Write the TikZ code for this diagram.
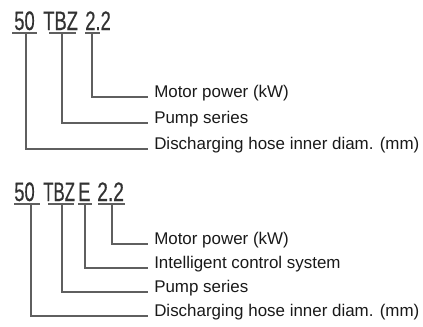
\documentclass[tikz,border=0pt]{standalone}
\usepackage{fontspec}
\setmainfont{Liberation Sans}
\newfontfamily\codefont[FakeBold=0.5]{Liberation Sans}
\definecolor{linegray}{RGB}{95,95,95}
\definecolor{codegray}{RGB}{50,50,50}
\definecolor{labblack}{RGB}{25,25,25}
\begin{document}
\begin{tikzpicture}[x=0.75pt,y=-0.75pt]
\useasboundingbox (0,0) rectangle (423,326);
\tikzset{
  code/.style={anchor=base west,inner sep=0,text=codegray,font=\codefont\fontsize{20}{22}\selectfont},
  lab/.style={anchor=base west,inner sep=0,text=labblack,font=\fontsize{12.7}{15}\selectfont},
  lead/.style={draw=linegray,line width=1.4pt},
  uline/.style={draw=linegray,line width=1.4pt}
}
\newcommand{\cnd}[2][0.69]{\scalebox{#1}[1]{#2}}
% ---------- top block ----------
\node[code] (t50) at (14,30) {\cnd{50}};
\node[code] (ttbz) at (43,30) {\cnd{TBZ}};
\node[code] (t22) at (85,30) {\cnd{2.2}};
\draw[uline] (12,33) -- (37,33);
\draw[uline] (49,33) -- (76,33);
\draw[uline] (85,33) -- (100,33);
\coordinate (ta) at (26,33);
\coordinate (tb) at (62,33);
\coordinate (tc) at (92,33);
\node[lab] (tl1) at (154,97) {Motor power (kW)};
\node[lab] (tl2) at (154,123) {Pump series};
\node[lab] (tl3) at (154,149) {Discharging hose inner diam. (mm)};
\draw[lead] (tc) |- ([xshift=-4.5pt]tl1.base west);
\draw[lead] (tb) |- ([xshift=-4.5pt]tl2.base west);
\draw[lead] (ta) |- ([xshift=-4.5pt]tl3.base west);
% ---------- bottom block ----------
\node[code] (b50) at (14,201) {\cnd{50}};
\node[code] (btbz) at (43,201) {\cnd[0.63]{TBZ}};
\node[code] (be) at (78,201) {\cnd{E}};
\node[code] (b22) at (97,201) {\cnd[0.72]{2.2}};
\draw[uline] (14,204) -- (40,204);
\draw[uline] (48,204) -- (74,204);
\draw[uline] (78,204) -- (92,204);
\draw[uline] (98,204) -- (125,204);
\coordinate (ba) at (31,204);
\coordinate (bb) at (62,204);
\coordinate (bc) at (85,204);
\coordinate (bd) at (112,204);
\node[lab] (bl1) at (154,244) {Motor power (kW)};
\node[lab] (bl2) at (154,268) {Intelligent control system};
\node[lab] (bl3) at (154,292) {Pump series};
\node[lab] (bl4) at (154,316) {Discharging hose inner diam. (mm)};
\draw[lead] (bd) |- ([xshift=-4.5pt]bl1.base west);
\draw[lead] (bc) |- ([xshift=-4.5pt]bl2.base west);
\draw[lead] (bb) |- ([xshift=-4.5pt]bl3.base west);
\draw[lead] (ba) |- ([xshift=-4.5pt]bl4.base west);
\end{tikzpicture}
\end{document}
